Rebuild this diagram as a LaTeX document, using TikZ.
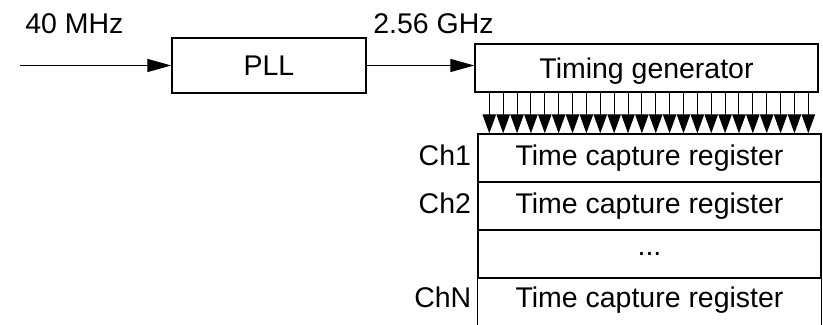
\documentclass[tikz,border=0pt]{standalone}
\usepackage{fontspec}
\setmainfont{Liberation Sans}
\usetikzlibrary{arrows.meta}
\begin{document}
\begin{tikzpicture}[line cap=butt, line join=miter,
    font=\fontsize{16.2}{19.4}\selectfont,
    block/.style={draw, line width=0.8pt, inner sep=0pt},
    row/.style={inner sep=0pt, minimum width=6.86cm, minimum height=0.96cm},
    chlabel/.style={inner sep=0pt, anchor=base east},
    feed/.style={line width=0.75pt, -{Triangle[length=0.48cm, width=0.26cm]}},
    tap/.style={line width=0.55pt, -{Triangle[length=0.38cm, width=0.27cm]}}]
  \useasboundingbox (0,0) rectangle (16.46,6.50);
  \node[block, minimum width=3.88cm, minimum height=1.10cm] (pll) at (5.38,5.19) {PLL};
  \node[block, minimum width=6.86cm, minimum height=0.96cm, text depth=0pt] (tg) at (12.93,5.14) {Timing generator};
  \coordinate (in) at (0.40,5.19);
  \draw[feed] (in) -- (pll.west);
  \draw[feed] (pll.east) -- (pll.east -| tg.west);
  \node[inner sep=0pt, anchor=base west] (fin) at (0.50,5.82) {40 MHz};
  \node[inner sep=0pt, anchor=base west] (fout) at (7.46,5.82) {2.56 GHz};
  \node[row, block] (reg1) at (12.99,3.34) {Time capture register};
  \node[row, block] (reg2) at (12.99,2.38) {Time capture register};
  \node[row, block] (regd) at (12.99,1.42) {...};
  \node[row, minimum height=0.84cm] (regN) at (12.99,0.50) {Time capture register};
  \coordinate (bot) at (0,0);
  \draw[line width=0.8pt] (regN.north west) -- (regN.north west |- bot)
                          (regN.north east) -- (regN.north east |- bot);
  \node[chlabel] (ch1) at ([xshift=-0.12cm]reg1.base west) {Ch1};
  \node[chlabel] (ch2) at ([xshift=-0.12cm]reg2.base west) {Ch2};
  \node[chlabel] (chN) at ([xshift=-0.12cm]regN.base west) {ChN};
  \foreach \i in {0,...,23} {
    \coordinate (t\i) at ([xshift=0.30cm+\i*0.2774cm]tg.south west);
    \draw[tap] (t\i) -- (t\i |- reg1.north);
  }
\end{tikzpicture}
\end{document}
